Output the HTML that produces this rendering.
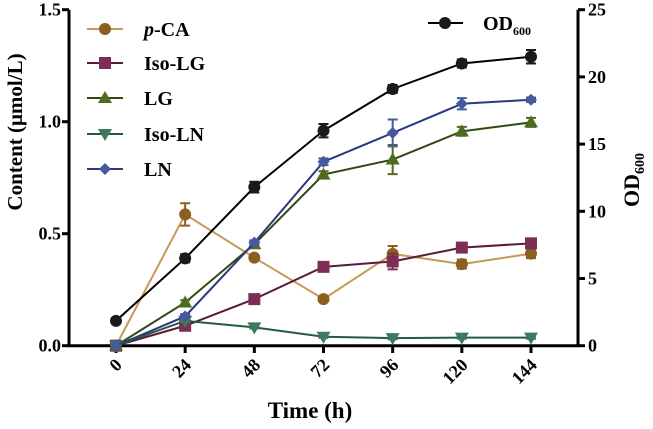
<!DOCTYPE html>
<html><head><meta charset="utf-8"><style>
body{margin:0;background:#fff}
svg{display:block;font-family:"Liberation Serif",serif;font-weight:bold}
</style></head><body>
<svg id="chart" width="653" height="429" viewBox="0 0 653 429" xmlns="http://www.w3.org/2000/svg"></svg>
<script>
const times=[0,24,48,72,96,120,144];
const od=[1.85,6.5,11.8,16.0,19.1,21.0,21.5];
const odErr=[0.2,0.3,0.4,0.5,0.3,0.3,0.5];
const pca=[0,0.586,0.393,0.208,0.41,0.364,0.411];
const pcaErr=[0,0.05,0.01,0.01,0.035,0.02,0.02];
const isoLG=[0,0.089,0.208,0.352,0.376,0.438,0.457];
const isoLGErr=[0,0.005,0.01,0.01,0.035,0.01,0.01];
const lg=[0,0.193,0.453,0.764,0.831,0.957,0.997];
const lgErr=[0,0.01,0.01,0.015,0.065,0.02,0.02];
const isoLN=[0,0.111,0.082,0.04,0.034,0.036,0.036];
const isoLNErr=[0,0.005,0.005,0.005,0.005,0.005,0.005];
const ln=[0,0.131,0.46,0.821,0.95,1.08,1.098];
const lnErr=[0,0.01,0.01,0.015,0.06,0.025,0.01];
const leftTicks=["0.0","0.5","1.0","1.5"];
const rightTicks=["0","5","10","15","20","25"];

const NS="http://www.w3.org/2000/svg";
const svg=document.getElementById('chart');
function mk(t,a,p){const e=document.createElementNS(NS,t);for(const k in a)e.setAttribute(k,a[k]);(p||svg).appendChild(e);return e;}
const x=t=>116+t*(531-116)/144;
const yL=v=>345.7-v*(345.7-9.7)/1.5;
const yR=v=>345.7-v*(345.7-9.7)/25;

let ax=mk('g',{});


mk('path',{d:'M69 9.7V345.7H578V9.7',fill:'none',stroke:'#000','stroke-width':3},ax);
leftTicks.forEach(s=>{const v=parseFloat(s),yy=yL(v);
 mk('line',{x1:62,x2:69,y1:yy,y2:yy,stroke:'#000','stroke-width':3},ax);
 const t=mk('text',{x:61,y:yy+6,'text-anchor':'end','font-size':18},ax);t.textContent=s;
 
 });
rightTicks.forEach(s=>{const v=parseFloat(s),yy=yR(v);
 mk('line',{x1:578,x2:585,y1:yy,y2:yy,stroke:'#000','stroke-width':3},ax);
 const t=mk('text',{x:588,y:yy+6,'font-size':18},ax);t.textContent=s;
 
 });
times.forEach(tv=>{const xx=x(tv);
 mk('line',{x1:xx,x2:xx,y1:345.7,y2:353,stroke:'#000','stroke-width':3},ax);
 const t=mk('text',{x:xx+7,y:366,'text-anchor':'end','font-size':18,transform:`rotate(-45 ${xx+7} 366)`},ax);t.textContent=tv;
 
 });
let t=mk('text',{x:310,y:418,'text-anchor':'middle','font-size':23});t.textContent='Time (h)';

t=mk('text',{x:22,y:132,'text-anchor':'middle','font-size':21,transform:'rotate(-90 22 132)'});t.textContent='Content (μmol/L)';

t=mk('text',{x:639,y:180,'text-anchor':'middle','font-size':22,transform:'rotate(-90 639 180)'});
t.innerHTML='OD<tspan font-size="14" dy="5">600</tspan>';


function marker(shape,cx,cy,fill,g){
 if(shape==='circle')return mk('circle',{cx,cy,r:6,fill},g);
 if(shape==='square')return mk('rect',{x:cx-6,y:cy-6,width:12,height:12,fill},g);
 if(shape==='up')return mk('path',{d:`M${cx} ${cy-7}L${cx+7} ${cy+5}L${cx-7} ${cy+5}Z`,fill},g);
 if(shape==='down')return mk('path',{d:`M${cx} ${cy+7}L${cx+7} ${cy-5}L${cx-7} ${cy-5}Z`,fill},g);
 if(shape==='diamond')return mk('path',{d:`M${cx} ${cy-6}L${cx+6} ${cy}L${cx} ${cy+6}L${cx-6} ${cy}Z`,fill},g);
}
const series=[
 {name:'p-CA',key:'series-pca',vals:pca,err:pcaErr,line:'#c49a55',fill:'#8a5f1f',shape:'circle',y:yL},
 {name:'Iso-LG',key:'series-iso-lg',vals:isoLG,err:isoLGErr,line:'#5a1a3a',fill:'#7e2e55',shape:'square',y:yL},
 {name:'LG',key:'series-lg',vals:lg,err:lgErr,line:'#2f4a12',fill:'#4e6b1e',shape:'up',y:yL},
 {name:'Iso-LN',key:'series-iso-ln',vals:isoLN,err:isoLNErr,line:'#245a40',fill:'#3b7a5c',shape:'down',y:yL},
 {name:'LN',key:'series-ln',vals:ln,err:lnErr,line:'#2a3a80',fill:'#44599e',shape:'diamond',y:yL},
 {name:'OD',key:'series-od600',vals:od,err:odErr,line:'#000',fill:'#1a1a1a',shape:'circle',y:yR}
];
series.forEach(s=>{
 const g=mk('g',{});
 
 
 mk('polyline',{points:s.vals.map((v,i)=>x(times[i])+','+s.y(v)).join(' '),fill:'none',stroke:s.line,'stroke-width':2},g);
 s.vals.forEach((v,i)=>{
  const xx=x(times[i]),hi=s.y(v+s.err[i]),lo=s.y(v-s.err[i]);
  if(s.err[i]>0){mk('path',{d:`M${xx} ${hi}V${lo}M${xx-5} ${hi}H${xx+5}M${xx-5} ${lo}H${xx+5}`,stroke:s.fill,'stroke-width':2,fill:'none'},g);}
  const m=marker(s.shape,xx,s.y(v),s.fill,g);
  
  
 });
});
const leg=mk('g',{});


const legY=[29,63,98,134,169];
series.slice(0,5).forEach((s,i)=>{
 const e=mk('g',{},leg);
 
 
 mk('line',{x1:87,x2:123,y1:legY[i],y2:legY[i],stroke:s.line,'stroke-width':2},e);
 marker(s.shape,105,legY[i],s.fill,e);
 const tt=mk('text',{x:144,y:legY[i]+7,'font-size':20},e);
 if(s.name==='p-CA')tt.innerHTML='<tspan font-style="italic">p</tspan>-CA';else tt.textContent=s.name;
});
const e=mk('g',{},leg);


mk('line',{x1:428,x2:463,y1:23,y2:23,stroke:'#000','stroke-width':2},e);
marker('circle',445,23,'#1a1a1a',e);
const tt=mk('text',{x:483,y:30,'font-size':20},e);
tt.innerHTML='OD<tspan font-size="12" dy="5">600</tspan>';
</script>
</body></html>
